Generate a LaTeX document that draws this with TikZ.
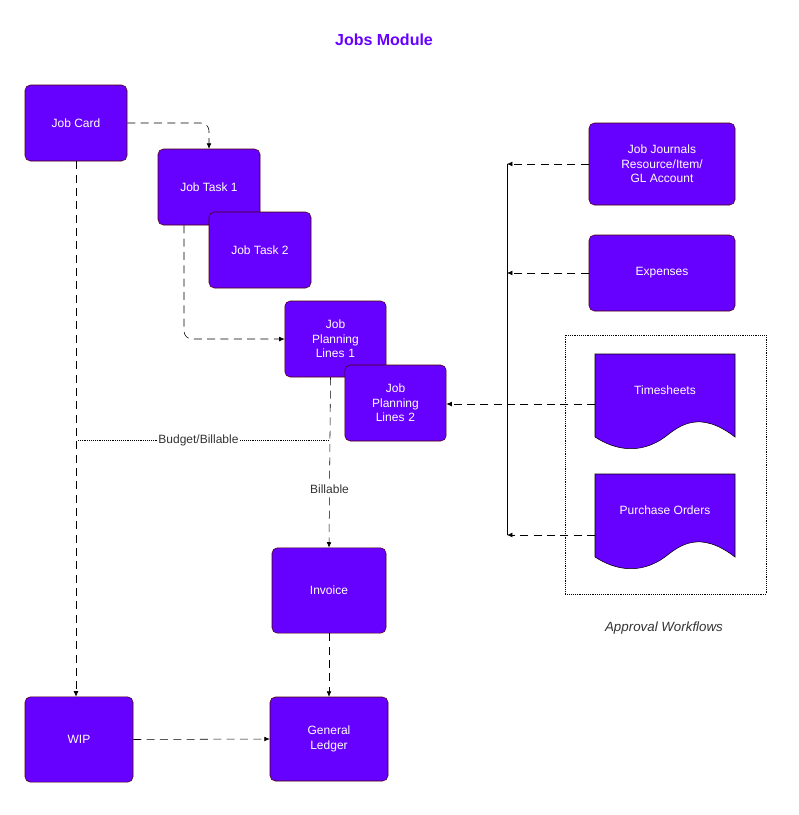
\documentclass[tikz,border=0pt]{standalone}
\usepackage{fontspec}
\setmainfont{Liberation Sans}
\usepackage{tikz}
\usetikzlibrary{arrows.meta, positioning, calc}
\definecolor{jobpurple}{HTML}{6600FF}

\begin{document}
\begin{tikzpicture}[x=0.75pt, y=-0.75pt, >={Latex[length=4pt,width=3.5pt]}, font=\fontsize{9}{11}\selectfont,
    box/.style={draw=black!70!red, fill=jobpurple, rounded corners=4pt, text=white, align=center, inner sep=1pt},
    doc/.style={text=white, align=center},
    flow/.style={->, dash pattern=on 6pt off 4pt, thin},
    tag/.style={fill=white, text=black!80, inner sep=1pt, font=\fontsize{9}{11}\selectfont}]
    \useasboundingbox (0,0) rectangle (799,815);
    \node[font=\bfseries\fontsize{12}{14}\selectfont, text=jobpurple] (title) at (384,40) {Jobs Module};

    \node[box, minimum width=76.5pt, minimum height=57pt] (card) at (76,123) {Job Card};
    \node[box, minimum width=76.5pt, minimum height=57pt] (task1) at (209,187) {Job Task 1};
    \node[box, minimum width=76.5pt, minimum height=57pt] (task2) at (260,250) {Job Task 2};
    \node[box, minimum width=76pt, minimum height=57pt, text width=60pt] (plan1) at (335.5,339) {Job\\Planning\\Lines 1};
    \node[box, minimum width=76pt, minimum height=57pt, text width=60pt] (plan2) at (395.5,403) {Job\\Planning\\Lines 2};
    \node[box, minimum width=109.5pt, minimum height=61.5pt] (journals) at (662,164) {Job Journals\\Resource/Item/\\GL Account};
    \node[box, minimum width=109.5pt, minimum height=57pt] (expenses) at (662,273) {Expenses};
    \node[box, minimum width=85.5pt, minimum height=64pt] (invoice) at (329,590.5) {Invoice};
    \node[box, minimum width=88.5pt, minimum height=63pt] (ledger) at (329,739) {General\\Ledger};
    \node[box, minimum width=81pt, minimum height=64pt] (wip) at (79,739.5) {WIP};

    % documents inside the approval box
    \fill[jobpurple, draw=black] (595,354) -- (735,354) -- (735,437) .. controls (700,410) and (680,425) .. (665,437) .. controls (640,455) and (615,450) .. (595,437) -- cycle;
    \fill[jobpurple, draw=black] (595,474) -- (735,474) -- (735,557) .. controls (700,530) and (680,545) .. (665,557) .. controls (640,575) and (615,570) .. (595,557) -- cycle;
    \node[doc, minimum width=105pt, minimum height=38pt] (sheets) at (665,390) {Timesheets};
    \node[doc, minimum width=105pt, minimum height=38pt] (orders) at (665,510) {Purchase Orders};
    \draw[densely dotted] (565,335) rectangle (766,594);
    \node[font=\itshape\fontsize{10}{12}\selectfont, text=black!80] (approval) at (664,628) {Approval Workflows};

    \coordinate (busTop) at (507,164);
    \coordinate (busBot) at (507,535);
    \draw (busTop) -- (busBot);
    \draw[flow] (journals.west) -- (busTop);
    \draw[flow] (expenses.west) -- (expenses.west -| busTop);
    \draw[flow] (595,535) -- (busBot);
    \draw[flow] (595,404) -- (plan2.east |- 0,404);

    \draw[flow, rounded corners=6pt] (card.east) -- (card.east -| task1.north) -- (task1.north);
    \draw[flow, rounded corners=6pt] ([xshift=-25*0.75pt]task1.south) |- (plan1.west);
    \draw[flow] (card.south) -- ([xshift=-2.25pt]wip.north);
    \draw[flow] ([xshift=-5*0.75pt]plan1.south) -- node[tag, pos=0.66] {Billable} (invoice.north);
    \draw[densely dotted] (78,440) -- node[tag, pos=0.48] {Budget/Billable} (329,440);
    \draw[flow] (invoice.south) -- (ledger.north);
    \draw[flow] (wip.east) -- (ledger.west);
\end{tikzpicture}
\end{document}
